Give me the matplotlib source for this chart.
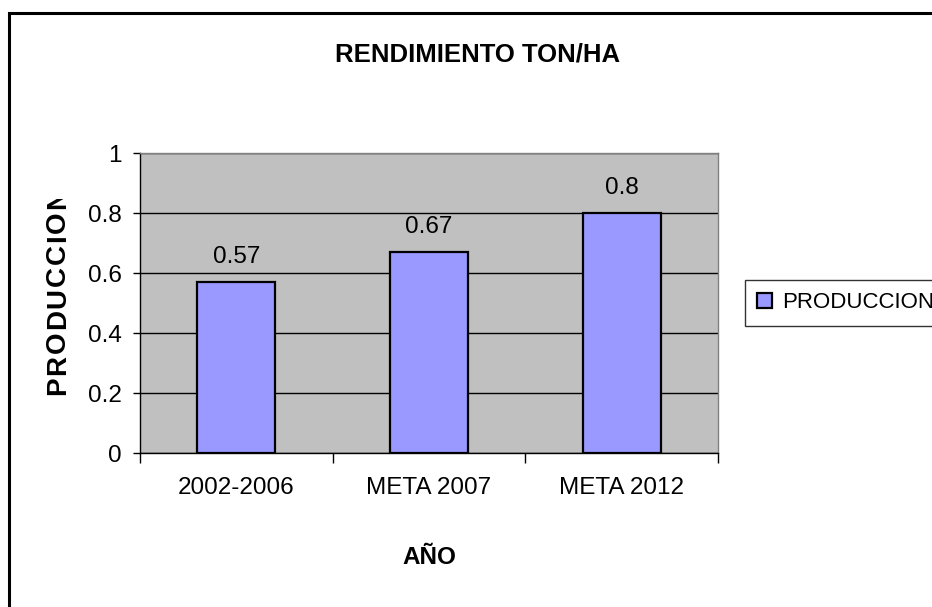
import matplotlib
matplotlib.use("Agg")
import matplotlib.pyplot as plt
from matplotlib.patches import Rectangle
from matplotlib.transforms import Bbox

categories = ["2002-2006", "META 2007", "META 2012"]
values = [0.57, 0.67, 0.8]
value_labels = ["0.57", "0.67", "0.8"]
yticks = [0, 0.2, 0.4, 0.6, 0.8, 1.0]
ytick_labels = ["0", "0.2", "0.4", "0.6", "0.8", "1"]
series_name = "PRODUCCION"
title = "RENDIMIENTO TON/HA"
xlabel = "AÑO"
ylabel = "PRODUCCION"

plt.rcParams['font.family'] = ['Liberation Sans', 'DejaVu Sans']

W, H = 932, 607
fig = plt.figure(figsize=(W / 100, H / 100), dpi=100)
fig.patch.set_facecolor("white")

# outer chart border (right/bottom run off the picture)
fig.patches.append(Rectangle((9 / W, -0.05), 1.2, 1 - 12.5 / H + 0.05,
                             transform=fig.transFigure, fill=False,
                             edgecolor="black", linewidth=2.2, zorder=0))

ax = fig.add_axes([140 / W, 1 - 453 / H, (718 - 140) / W, (453 - 153) / H])
ax.set_facecolor("#C0C0C0")

x = list(range(len(categories)))
bars = ax.bar(x, values, width=0.405, color="#9999FF", edgecolor="black",
              linewidth=1.6, zorder=3, label=series_name)
ax.bar_label(bars, labels=value_labels, padding=10, fontsize=17.5, zorder=4)

ax.set_xlim(-0.5, len(categories) - 0.5)
ax.set_ylim(0, 1)
ax.set_yticks(yticks)
ax.set_yticklabels(ytick_labels, fontsize=17.5)
ax.yaxis.grid(True, color="black", linewidth=1.0, zorder=1)
ax.set_axisbelow(True)

ax.set_xticks(x)
ax.set_xticklabels(categories, fontsize=17.5)
ax.set_xticks([i - 0.5 for i in range(len(categories) + 1)], minor=True)
ax.tick_params(axis="x", which="major", length=0, pad=17)
ax.tick_params(axis="x", which="minor", length=7, width=1.0, direction="out")
ax.tick_params(axis="y", length=5, width=1.0, direction="out", pad=8)

for s in ["top", "right"]:
    ax.spines[s].set_color("#808080")
    ax.spines[s].set_linewidth(1.0)
for s in ["left", "bottom"]:
    ax.spines[s].set_color("black")
    ax.spines[s].set_linewidth(1.0)

fig.text(478 / W, 1 - 55 / H, title, ha="center", va="center",
         fontsize=18.5, fontweight="bold")
fig.text(429 / W, 1 - 557 / H, xlabel, ha="center", va="center",
         fontsize=17.5, fontweight="bold")

# letter-spaced, clipped vertical axis title
renderer = fig.canvas.get_renderer()
clip = Bbox.from_extents(0, 0, 130, H - 199)
ypos = H - 395  # display pixels, bottom of first letter
spacing = 1.8
for ch in ylabel:
    t = fig.text(58 / W, ypos / H, ch, rotation=90, ha="center",
                 va="bottom", fontsize=20, fontweight="bold")
    t.set_clip_box(clip)
    t.set_clip_on(True)
    ext = t.get_window_extent(renderer)
    ypos += ext.height + spacing

leg = fig.legend(loc="center left", bbox_to_anchor=(745 / W, 1 - 303 / H),
                 frameon=True, fancybox=False, fontsize=16,
                 handlelength=0.65, handleheight=0.65, handletextpad=0.45,
                 borderpad=0.55, borderaxespad=0)
leg.get_frame().set_edgecolor("black")
leg.get_frame().set_linewidth(1.0)
for p in leg.get_patches():
    p.set_linewidth(1.6)

fig.savefig("out.png", dpi=100)
